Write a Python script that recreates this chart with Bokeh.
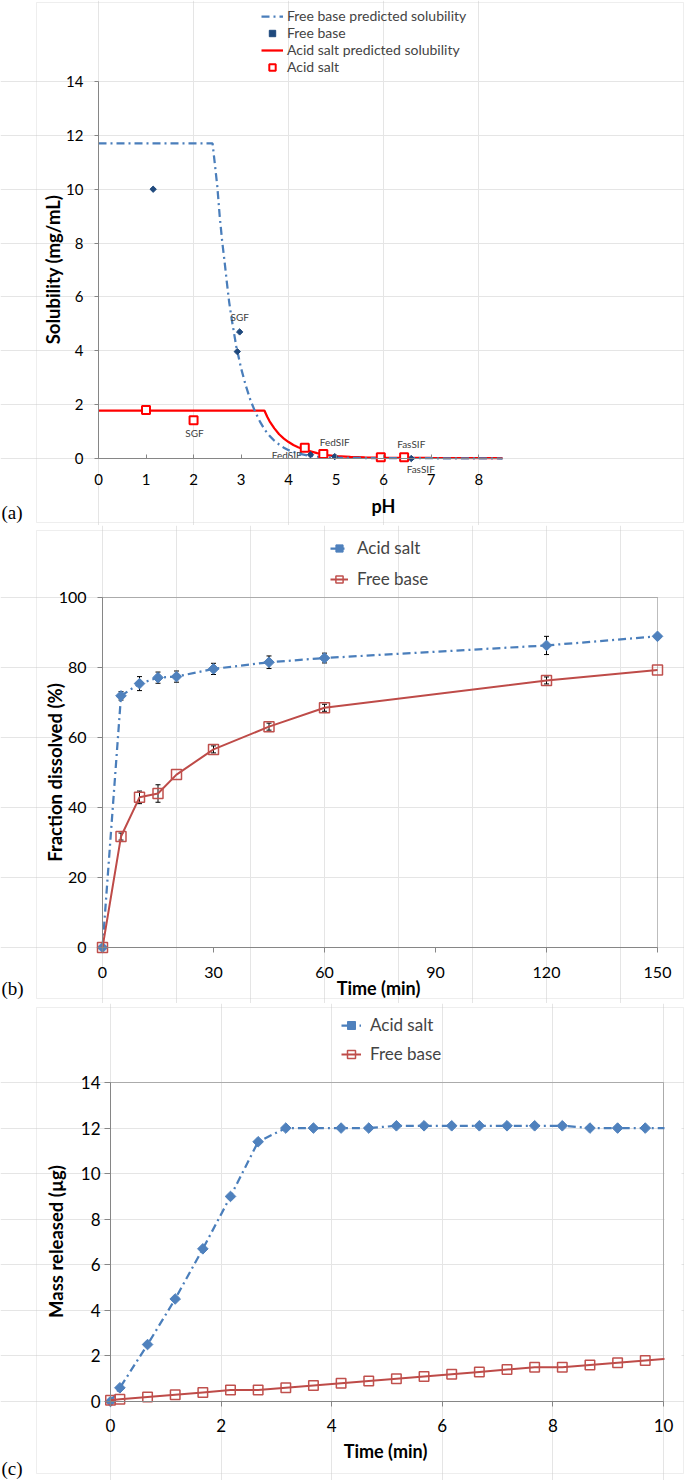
from bokeh.plotting import figure
from bokeh.models import (Range1d, Legend, LegendItem, Whisker, ColumnDataSource,
                          FixedTicker, TeeHead, LinearAxis, Label, BoxAnnotation)
from bokeh.layouts import column
from bokeh.embed import file_html
from bokeh.resources import INLINE
from bokeh.core.properties import value

FONT = "Lato"
SERIF = "Liberation Serif"
W = 684
AXIS = "#868686"
BOXC = "#c8c8c8"
ROT = 1.5707963268

# ---------------- (a) pH-solubility data ----------------
fb_pred_ph = [0.0, 2.40, 2.45, 2.50, 2.55, 2.60, 2.65, 2.70, 2.75, 2.80, 2.90, 3.00, 3.10,
              3.20, 3.30, 3.40, 3.50, 3.60, 3.70, 3.80, 3.90, 4.00, 4.20, 4.40, 4.60, 4.80,
              5.00, 5.50, 6.00, 7.00, 8.50]
fb_pred_sol = [11.7, 11.7, 10.9, 10.1, 9.0, 8.1, 7.35, 6.55, 5.8, 5.2, 4.15, 3.35, 2.7,
               2.15, 1.72, 1.36, 1.06, 0.84, 0.66, 0.52, 0.40, 0.31, 0.19, 0.11, 0.07, 0.04,
               0.03, 0.02, 0.01, 0.01, 0.0]
as_pred_ph = [0.0, 3.49, 3.55, 3.60, 3.70, 3.80, 3.90, 4.00, 4.10, 4.20, 4.30, 4.40, 4.60,
              4.80, 5.00, 5.30, 5.60, 6.00, 7.00, 8.50]
as_pred_sol = [1.78, 1.78, 1.55, 1.38, 1.12, 0.90, 0.74, 0.61, 0.50, 0.42, 0.35, 0.29, 0.20,
               0.13, 0.09, 0.06, 0.04, 0.03, 0.02, 0.01]
fb_ph = [1.15, 2.97, 2.92, 4.46, 4.97, 5.97, 6.58]
fb_sol = [10.0, 4.7, 3.97, 0.14, 0.07, 0.02, 0.0]
as_ph = [1.0, 2.0, 4.34, 4.73, 5.94, 6.43]
as_sol = [1.8, 1.42, 0.4, 0.17, 0.05, 0.05]
note_text = ["SGF", "SGF", "FedSIF", "FedSIF", "FasSIF", "FasSIF"]
note_ph = [2.97, 2.02, 4.97, 3.96, 6.58, 6.78]
note_sol = [5.25, 0.93, 0.60, 0.12, 0.55, -0.38]
a_xticks = [0, 1, 2, 3, 4, 5, 6, 7, 8]
a_yticks = [0, 2, 4, 6, 8, 10, 12, 14]
a_xlim = (0, 8.5)
a_ylim = (0, 14)

# ---------------- (b) dissolution data ----------------
b_time = [0, 5, 10, 15, 20, 30, 45, 60, 120, 150]
b_acid = [0.0, 71.9, 75.4, 77.1, 77.4, 79.6, 81.5, 82.7, 86.3, 88.9]
b_acid_err = [0.0, 1.2, 2.0, 1.6, 1.6, 1.6, 1.8, 1.4, 2.6, 0.0]
b_free = [0.0, 31.7, 42.9, 44.0, 49.4, 56.6, 63.1, 68.5, 76.3, 79.3]
b_free_err = [0.0, 1.0, 1.8, 2.5, 0.0, 1.0, 1.0, 1.0, 1.0, 0.0]
b_xticks = [0, 30, 60, 90, 120, 150]
b_yticks = [0, 20, 40, 60, 80, 100]
b_xlim = (0, 150)
b_ylim = (0, 100)

# ---------------- (c) mass released data ----------------
c_time = [0, 0.17, 0.67, 1.17, 1.67, 2.17, 2.67, 3.17, 3.67, 4.17, 4.67, 5.17, 5.67,
          6.17, 6.67, 7.17, 7.67, 8.17, 8.67, 9.17, 9.67, 10.17]
c_acid = [0.0, 0.6, 2.5, 4.5, 6.7, 9.0, 11.4, 12.0, 12.0, 12.0, 12.0, 12.1, 12.1,
          12.1, 12.1, 12.1, 12.1, 12.1, 12.0, 12.0, 12.0, 12.0]
c_free = [0.05, 0.1, 0.2, 0.3, 0.4, 0.5, 0.5, 0.6, 0.7, 0.8, 0.9, 1.0, 1.1,
          1.2, 1.3, 1.4, 1.5, 1.5, 1.6, 1.7, 1.8, 1.9]
c_xticks = [0, 2, 4, 6, 8, 10]
c_yticks = [0, 2, 4, 6, 8, 10, 12, 14]
c_xlim = (0, 10)
c_ylim = (0, 14)

BLUE_L = "#4A7EBB"
BLUE_M = "#4F81BD"
RED_L = "#BE4B48"
RED_M = "#C0504D"
NAVY = "#1F497D"
DASHDOT = "8 4 2 4"
DIAMOND_ANGLE = 0.7853981634  # square marker turned into a diamond


class Panel:
    """A figure whose frame is the whole canvas; the plot area sits at pixel box
    (px0..px1, py1..py0) and axes are pinned to the data origin."""

    def __init__(self, h, px0, px1, py0, py1, xlim, ylim):
        self.h = h
        self.px0, self.py0 = px0, py0
        self.sx = (xlim[1] - xlim[0]) / (px1 - px0)
        self.sy = (ylim[1] - ylim[0]) / (py0 - py1)
        self.x0, self.y0 = xlim[0], ylim[0]
        xr = Range1d(self.m(0, 0)[0], self.m(W, 0)[0])
        yr = Range1d(self.m(0, h)[1], self.m(0, 0)[1])
        self.p = figure(width=W, height=h, x_range=xr, y_range=yr,
                        output_backend="svg", toolbar_location=None,
                        x_axis_location=None, y_axis_location=None,
                        min_border=0, min_border_left=0, min_border_right=0,
                        min_border_top=0, min_border_bottom=0)
        self.p.outline_line_color = None
        self.p.background_fill_color = "white"
        self.p.border_fill_color = "white"

    def m(self, px, py):
        return (self.x0 + (px - self.px0) * self.sx, self.y0 + (self.py0 - py) * self.sy)

    def box(self, l, t, r, b, color, fill=None, level="underlay", data=False):
        if data:
            x0, y1, x1, y0 = l, t, r, b
        else:
            x0, y1 = self.m(l, t)
            x1, y0 = self.m(r, b)
        self.p.add_layout(BoxAnnotation(left=x0, right=x1, top=y1, bottom=y0,
                                        fill_color=fill if fill else "white",
                                        fill_alpha=1 if fill else 0,
                                        line_color=color, line_width=1, level=level))

    def text(self, txt, px, py, size, bold=False, font=FONT, align="center", angle=0.0,
             color="black"):
        x, y = self.m(px, py)
        self.p.add_layout(Label(x=x, y=y, text=txt, text_font=font, text_font_size=size,
                                text_font_style="bold" if bold else "normal",
                                text_color=color, text_align=align,
                                text_baseline="middle", angle=angle))

    def axes(self, xlim, ylim, xticks, yticks, xsize, ysize, x_in, x_out, y_out,
             x_stand, y_stand):
        xa = LinearAxis(fixed_location=ylim[0], bounds=xlim, ticker=FixedTicker(ticks=xticks))
        ya = LinearAxis(fixed_location=xlim[0], bounds=ylim, ticker=FixedTicker(ticks=yticks))
        for ax, size in ((xa, xsize), (ya, ysize)):
            ax.axis_line_color = AXIS
            ax.axis_line_width = 1
            ax.major_tick_line_color = AXIS
            ax.minor_tick_line_color = None
            ax.major_label_text_font = FONT
            ax.major_label_text_font_size = size
            ax.major_label_text_color = "black"
        xa.major_tick_in, xa.major_tick_out = x_in, x_out
        ya.major_tick_in, ya.major_tick_out = 0, y_out
        xa.major_label_standoff = x_stand
        ya.major_label_standoff = y_stand
        self.p.add_layout(xa, "below")
        self.p.add_layout(ya, "left")


def make_legend(items, loc, size, gw, gh, lh, stand, spacing):
    return Legend(items=items, location=loc, orientation="vertical", label_text_font=FONT,
                  label_text_font_size=size, glyph_width=gw, glyph_height=gh,
                  label_height=lh, label_standoff=stand, spacing=spacing, padding=0,
                  margin=0, border_line_color=None, background_fill_alpha=0)


# ======================= panel (a) =======================
A = Panel(525, 98, 502, 458, 81, a_xlim, a_ylim)
pa = A.p
A.box(36, 2, 683, 522, BOXC)
A.axes(a_xlim, a_ylim, a_xticks, a_yticks, "15px", "15px", 4, 0, 4, 15, 11)

r_as_line = pa.line(as_pred_ph, as_pred_sol, line_color="#FF0000", line_width=2.25)
r_fb_line = pa.line(fb_pred_ph, fb_pred_sol, line_color=BLUE_L, line_width=2.25,
                    line_dash=DASHDOT)
r_fb_pts = pa.scatter(fb_ph, fb_sol, marker="square", angle=DIAMOND_ANGLE, size=4.5,
                      fill_color=NAVY, line_color=NAVY)
r_as_pts = pa.scatter(as_ph, as_sol, marker="square", size=8, fill_color="white",
                      line_color="#FF0000", line_width=2)
pa.text(note_ph, note_sol, text=note_text, text_font=value(FONT), text_font_size="10px",
        text_color="#404040", text_align="center", text_baseline="middle")

A.text("Solubility (mg/mL)", 52, 269, "18.5px", bold=True, angle=ROT)
A.text("pH", 383, 505, "18px", bold=True)
A.text("(a)", 1, 512, "19px", font=SERIF, align="left")

pa.add_layout(make_legend([
    LegendItem(label="Free base predicted solubility", renderers=[r_fb_line]),
    LegendItem(label="Free base", renderers=[r_fb_pts]),
    LegendItem(label="Acid salt predicted solubility", renderers=[r_as_line]),
    LegendItem(label="Acid salt", renderers=[r_as_pts]),
], (261, 525 - 75), "14px", 22, 16, 16, 4, 0))

# ======================= panel (b) =======================
B = Panel(478, 102, 657, 422, 72, b_xlim, b_ylim)
pb = B.p
B.box(36, 5, 683, 473, BOXC)
B.box(b_xlim[0], b_ylim[1], b_xlim[1], b_ylim[0], "#262626", data=True)
B.axes(b_xlim, b_ylim, b_xticks, b_yticks, "16px", "16px", 0, 5, 5, 14, 11)

rb_al = pb.line(b_time, b_acid, line_color=BLUE_L, line_width=2.25, line_dash=DASHDOT)
rb_am = pb.scatter(b_time, b_acid, marker="square", angle=DIAMOND_ANGLE, size=7.5,
                   fill_color=BLUE_M, line_color=BLUE_M)
rb_fl = pb.line(b_time, b_free, line_color=RED_L, line_width=2)
rb_fm = pb.scatter(b_time, b_free, marker="square", size=10, fill_color=None,
                   line_color=RED_M, line_width=1.5)

for vals, errs in ((b_acid, b_acid_err), (b_free, b_free_err)):
    xs = [t for t, e in zip(b_time, errs) if e > 0]
    lo = [v - e for v, e in zip(vals, errs) if e > 0]
    up = [v + e for v, e in zip(vals, errs) if e > 0]
    src = ColumnDataSource(dict(x=xs, lo=lo, up=up))
    pb.add_layout(Whisker(source=src, base="x", lower="lo", upper="up",
                          line_color="black", line_width=1,
                          upper_head=TeeHead(size=5, line_color="black", line_width=1),
                          lower_head=TeeHead(size=5, line_color="black", line_width=1)))

B.text("Fraction dissolved (%)", 54, 247, "18.5px", bold=True, angle=ROT)
B.text("Time (min)", 378, 462, "18px", bold=True)
B.text("(b)", 1, 463, "19px", font=SERIF, align="left")
pb.add_layout(make_legend([
    LegendItem(label="Acid salt", renderers=[rb_al, rb_am]),
    LegendItem(label="Free base", renderers=[rb_fl, rb_fm]),
], (330, 478 - 64), "17px", 18, 20, 20, 9, 10))

# ======================= panel (c) =======================
C = Panel(477, 110, 663, 398, 79, c_xlim, c_ylim)
pc = C.p
C.box(36, 4, 683, 470, BOXC)
C.box(c_xlim[0], c_ylim[1], c_xlim[1], c_ylim[0], "#262626", data=True)
C.axes(c_xlim, c_ylim, c_xticks, c_yticks, "17px", "17px", 0, 5, 6, 12, 4)

rc_al = pc.line(c_time, c_acid, line_color=BLUE_L, line_width=2.25, line_dash=DASHDOT)
rc_am = pc.scatter(c_time, c_acid, marker="square", angle=DIAMOND_ANGLE, size=7.5,
                   fill_color=BLUE_M, line_color=BLUE_M)
rc_fl = pc.line(c_time, c_free, line_color=RED_L, line_width=2)
rc_fm = pc.scatter(c_time, c_free, marker="square", size=9.5, fill_color=None,
                   line_color=RED_M, line_width=1.5)
# mask whatever runs past the right edge of the plot area
C.box(664, 100, 681, 395, None, fill="white", level="annotation")

C.text("Mass released (µg)", 55, 238, "18.5px", bold=True, angle=ROT)
C.text("Time (min)", 385, 447, "18px", bold=True)
C.text("(c)", 1, 465, "19px", font=SERIF, align="left")
pc.add_layout(make_legend([
    LegendItem(label="Acid salt", renderers=[rc_al, rc_am]),
    LegendItem(label="Free base", renderers=[rc_fl, rc_fm]),
], (341, 477 - 61), "17px", 20, 20, 20, 9, 8))

layout = column(pa, pb, pc, spacing=0)
open("out.html", "w").write(file_html(layout, INLINE))
